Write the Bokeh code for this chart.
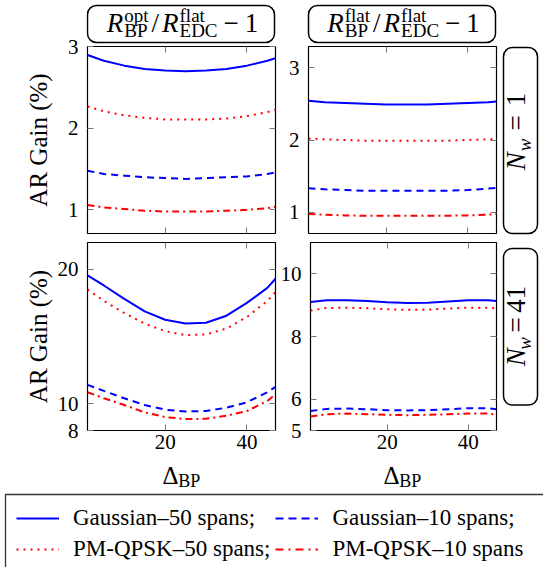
import math
from bokeh.plotting import figure
from bokeh.layouts import column, row
from bokeh.models import (Range1d, FixedTicker, LinearAxis, Label, BoxAnnotation,
                          Legend, LegendItem, Spacer)
from bokeh.embed import file_html
from bokeh.resources import INLINE

FONT = "Liberation Serif"

# ---------------- data ----------------
delta_bp = [1, 5, 10, 15, 20, 25, 30, 35, 40, 45, 47]
x_ticks = [20, 40]

# top-left: R_BP^opt / R_EDC^flat - 1, N_w = 1
tl_gauss50 = [2.90, 2.83, 2.77, 2.73, 2.71, 2.70, 2.71, 2.73, 2.77, 2.83, 2.86]
tl_gauss10 = [1.48, 1.44, 1.42, 1.40, 1.39, 1.38, 1.39, 1.40, 1.41, 1.44, 1.46]
tl_qpsk50 = [2.27, 2.21, 2.16, 2.13, 2.11, 2.11, 2.11, 2.12, 2.15, 2.20, 2.23]
tl_qpsk10 = [1.06, 1.03, 1.01, 0.99, 0.98, 0.98, 0.98, 0.99, 1.00, 1.02, 1.04]
tl_yticks = [1, 2, 3]

# top-right: R_BP^flat / R_EDC^flat - 1, N_w = 1
tr_gauss50 = [2.54, 2.52, 2.51, 2.50, 2.49, 2.49, 2.49, 2.50, 2.51, 2.52, 2.53]
tr_gauss10 = [1.335, 1.32, 1.31, 1.30, 1.30, 1.30, 1.30, 1.30, 1.31, 1.33, 1.34]
tr_qpsk50 = [2.02, 2.01, 2.00, 1.99, 1.99, 1.99, 1.99, 1.99, 2.00, 2.01, 2.01]
tr_qpsk10 = [0.98, 0.97, 0.96, 0.955, 0.955, 0.955, 0.955, 0.955, 0.96, 0.97, 0.98]
tr_yticks = [1, 2, 3]

# bottom-left: R_BP^opt / R_EDC^flat - 1, N_w = 41
bl_gauss50 = [19.55, 18.8, 17.8, 16.87, 16.25, 15.97, 16.02, 16.55, 17.5, 18.62, 19.3]
bl_gauss10 = [11.4, 10.95, 10.4, 9.9, 9.55, 9.42, 9.45, 9.7, 10.1, 10.85, 11.25]
bl_qpsk50 = [18.5, 17.65, 16.75, 15.95, 15.4, 15.1, 15.15, 15.6, 16.45, 17.65, 18.3]
bl_qpsk10 = [10.85, 10.4, 9.9, 9.35, 9.0, 8.85, 8.87, 9.1, 9.45, 10.2, 10.7]
bl_yticks = [8, 10, 20]

# bottom-right: R_BP^flat / R_EDC^flat - 1, N_w = 41
br_gauss50 = [9.10, 9.16, 9.16, 9.13, 9.09, 9.07, 9.08, 9.12, 9.16, 9.16, 9.13]
br_gauss10 = [5.62, 5.69, 5.70, 5.68, 5.65, 5.64, 5.65, 5.68, 5.71, 5.71, 5.68]
br_qpsk50 = [8.83, 8.91, 8.92, 8.90, 8.87, 8.85, 8.86, 8.89, 8.92, 8.92, 8.89]
br_qpsk10 = [5.45, 5.52, 5.54, 5.52, 5.50, 5.49, 5.50, 5.52, 5.54, 5.54, 5.51]
br_yticks = [5, 6, 8, 10]

series_labels = ["Gaussian\u201350 spans;", "Gaussian\u201310 spans;",
                 "PM-QPSK\u201350 spans;", "PM-QPSK\u201310 spans"]
row_labels = ["1", "41"]
y_label = "AR Gain (%)"

# ---------------- styles ----------------
STYLE = {
    "g50": dict(line_color="#0000ff", line_dash="solid"),
    "g10": dict(line_color="#0000ff", line_dash="7 5"),
    "q50": dict(line_color="#ff0000", line_dash="2 5"),
    "q10": dict(line_color="#ff0000", line_dash="7 4 2 4"),
}
LEG_STYLE = {
    "g50": dict(line_color="#0000ff", line_dash="solid"),
    "g10": dict(line_color="#0000ff", line_dash="8 5"),
    "q50": dict(line_color="#ff0000", line_dash="2 5"),
    "q10": dict(line_color="#ff0000", line_dash="8 5 2 5"),
}

W = {' ': .25, '(': .333, ')': .333, '%': .833, '-': .333, '\u2013': .5, '/': .278,
     ';': .278, '=': .564, '\u2212': .564, '\u0394': .612,
     'a': .444, 'c': .444, 'e': .444, 'f': .333, 'i': .278, 'l': .278, 'n': .5,
     'o': .5, 'p': .5, 's': .389, 't': .278, 'u': .5,
     'B': .667, 'C': .667, 'D': .722, 'E': .611, 'G': .722, 'K': .722, 'M': .889,
     'N': .722, 'P': .556, 'Q': .722, 'R': .667, 'S': .556}
WI = {'R': .611, 'N': .667, 'w': .667}
MID = 0.34  # distance from alphabetic baseline to the middle of the em box


def tw(s, size, italic=False):
    tot = 0.0
    for c in s:
        if italic and c in WI:
            tot += WI[c]
        elif c.isdigit():
            tot += 0.5
        else:
            tot += W.get(c, 0.5)
    return tot * size


def compose(p, slots, cx, base, vertical=False):
    """slots: list of (pieces, gap); piece = (text, size, italic, shift).
    cx: centre along the text direction, base: baseline position across it."""
    widths = [max(tw(t, s, it) for (t, s, it, sh) in pieces) for pieces, gap in slots]
    total = sum(w + g for w, (pc, g) in zip(widths, slots)) - slots[-1][1]
    pos = -total / 2.0
    for w, (pieces, gap) in zip(widths, slots):
        for (t, s, it, sh) in pieces:
            along = cx + pos + tw(t, s, it) / 2.0
            if vertical:
                x, y, ang = base - sh - MID * s, along, math.pi / 2
            else:
                x, y, ang = along, base + sh + MID * s, 0.0
            p.add_layout(Label(x=x, y=y, text=t, angle=ang, text_font=FONT,
                               text_font_size=f"{s}px",
                               text_font_style="italic" if it else "normal",
                               text_baseline="middle", text_align="center",
                               text_color="black"))
        pos += w + gap


def style_axis(ax, ticks, labels, standoff=8, ticks_on=True):
    ax.ticker = FixedTicker(ticks=ticks)
    ax.axis_line_color = None
    ax.major_tick_in = 6 if ticks_on else 0
    ax.major_tick_out = 0
    ax.major_tick_line_color = "#777777" if ticks_on else None
    ax.major_tick_line_width = 1
    ax.minor_tick_line_color = None
    ax.major_label_text_font = FONT
    if labels:
        ax.major_label_text_color = "black"
        ax.major_label_text_font_size = "21px"
        ax.major_label_standoff = standoff
    else:
        ax.major_label_text_color = None
        ax.major_label_text_font_size = "1px"
        ax.major_label_standoff = 0


def set_ylabel(ax, standoff):
    ax.axis_label = y_label
    ax.axis_label_text_font = FONT
    ax.axis_label_text_font_size = "25px"
    ax.axis_label_text_font_style = "normal"
    ax.axis_label_text_color = "black"
    ax.axis_label_standoff = standoff


def blank_fig(w, h):
    f = figure(width=w, height=h, x_range=Range1d(0, w), y_range=Range1d(0, h),
               output_backend="svg", toolbar_location=None, min_border=0,
               x_axis_location=None, y_axis_location=None)
    f.grid.visible = False
    f.outline_line_color = None
    return f


def strip_box(f, left, right, bottom, top):
    f.add_layout(BoxAnnotation(left=left, right=right, bottom=bottom, top=top,
                               fill_color="white", fill_alpha=1.0, line_color="black",
                               line_alpha=1.0, line_width=1.5, border_radius=9))


def make_panel(width, height, borders, yr, yticks, data, x_labels, y_labels, ylab_standoff=None):
    bl, br, bt, bb = borders
    p = figure(width=width, height=height, x_range=Range1d(1, 47), y_range=Range1d(*yr),
               output_backend="svg", toolbar_location=None,
               min_border_left=bl, min_border_right=br, min_border_top=bt, min_border_bottom=bb)
    p.xgrid.visible = False
    p.ygrid.visible = False
    p.outline_line_color = "black"
    p.outline_line_width = 1.2
    p.outline_line_alpha = 1.0
    p.add_layout(LinearAxis(), "above")
    p.add_layout(LinearAxis(), "right")
    style_axis(p.below[0], x_ticks, x_labels, standoff=4)
    style_axis(p.above[0], x_ticks, False)
    style_axis(p.left[0], yticks, y_labels, standoff=9)
    style_axis(p.right[0], yticks, False)
    if ylab_standoff is not None:
        set_ylabel(p.left[0], ylab_standoff)
    for key, vals in data:
        p.line(delta_bp, vals, line_width=2, **STYLE[key])
    return p


def ratio_slots(sup):
    M, S = 27, 19
    return [
        ([("R", M, True, 0)], 1),
        ([(sup, S, False, 10), ("BP", S, False, -5)], 3),
        ([("/", M, False, 0)], 3),
        ([("R", M, True, 0)], 1),
        ([("flat", S, False, 10), ("EDC", S, False, -5)], 6),
        ([("\u2212", M, False, 0)], 6),
        ([("1", M, False, 0)], 0),
    ]


def nw_slots(n):
    M, S = 27, 19
    return [
        ([("N", M, True, 0)], 1),
        ([("w", S, True, -5)], 8),
        ([("=", M, False, 0)], 9),
        ([(n, M, False, 0)], 0),
    ]


def dbp_slots():
    return [([("\u0394", 25, False, 0)], 0), ([("BP", 18, False, -3.5)], 0)]


# ---------------- top block ----------------
# y-axis (labels + title) of the top-left panel, in its own narrow figure
tl_range = (0.71, 3.005)
ax_tl = figure(width=86, height=237, x_range=Range1d(1, 47), y_range=Range1d(*tl_range),
               output_backend="svg", toolbar_location=None, x_axis_location=None,
               min_border_left=85, min_border_right=0, min_border_top=46, min_border_bottom=4)
ax_tl.grid.visible = False
ax_tl.outline_line_color = None
style_axis(ax_tl.left[0], tl_yticks, True, standoff=7, ticks_on=False)
set_ylabel(ax_tl.left[0], 13)

s1 = blank_fig(191, 44)
strip_box(s1, 1, 188, 2, 39)
compose(s1, ratio_slots("opt"), 96, 12.3)

s2 = blank_fig(222, 44)
strip_box(s2, 31, 218, 2, 39)
compose(s2, ratio_slots("flat"), 126, 12.3)

tl = make_panel(191, 193, (1, 2, 2, 4), tl_range, tl_yticks,
                [("q10", tl_qpsk10), ("q50", tl_qpsk50), ("g10", tl_gauss10), ("g50", tl_gauss50)],
                False, False)
tr = make_panel(222, 193, (31, 3, 2, 4), (0.71, 3.29), tr_yticks,
                [("q10", tr_qpsk10), ("q50", tr_qpsk50), ("g10", tr_gauss10), ("g50", tr_gauss50)],
                False, True)

sr1 = blank_fig(44, 193)
strip_box(sr1, 4, 38, 4, 190)
compose(sr1, nw_slots(row_labels[0]), 106, 26, vertical=True)

top_block = row(ax_tl,
                column(row(s1, s2), row(tl, tr)),
                column(Spacer(width=44, height=44), sr1))

# ---------------- bottom block ----------------
bl = make_panel(277, 222, (87, 2, 5, 29), (8, 22), bl_yticks,
                [("q10", bl_qpsk10), ("q50", bl_qpsk50), ("g10", bl_gauss10), ("g50", bl_gauss50)],
                True, True, 3)
br = make_panel(222, 222, (31, 3, 5, 29), (5, 11), br_yticks,
                [("q10", br_qpsk10), ("q50", br_qpsk50), ("g10", br_gauss10), ("g50", br_gauss50)],
                True, True)

sr2 = blank_fig(44, 222)
strip_box(sr2, 4, 38, 30, 215)
compose(sr2, nw_slots(row_labels[1]), 123, 26, vertical=True)

# x-axis titles
xl1 = blank_fig(277, 33)
compose(xl1, dbp_slots(), 181, 9)
xl2 = blank_fig(222, 33)
compose(xl2, dbp_slots(), 125, 9)

# ---------------- legend ----------------
lg = blank_fig(540, 75)
# legend frame: runs past the right and bottom edges of the page, as in the reference
lg.add_layout(BoxAnnotation(left=2, right=600, bottom=-40, top=73, fill_color="white",
                            fill_alpha=1.0, line_color="#333333", line_alpha=1.0,
                            line_width=1.3))
items = []
for key, lab, vals in zip(["g50", "g10", "q50", "q10"], series_labels,
                          [bl_gauss50, bl_gauss10, bl_qpsk50, bl_qpsk10]):
    r = lg.line(x=[delta_bp[0]], y=[vals[0]], line_width=2, **LEG_STYLE[key])
    items.append(LegendItem(label=lab, renderers=[r]))
legend = Legend(items=items, location="top_left", orientation="horizontal", ncols=2,
                glyph_width=43, glyph_height=20, label_standoff=14, label_width=185,
                label_height=20, spacing=5, padding=8, margin=4,
                label_text_font=FONT, label_text_font_size="23px",
                label_text_color="black",
                border_line_color="white", border_line_alpha=1.0, border_line_width=1,
                background_fill_color="white", background_fill_alpha=1.0)
lg.add_layout(legend, "center")

layout = column(top_block,
                row(bl, br, sr2),
                row(xl1, xl2),
                row(Spacer(width=3, height=75), lg))

open("out.html", "w").write(file_html(layout, INLINE))
